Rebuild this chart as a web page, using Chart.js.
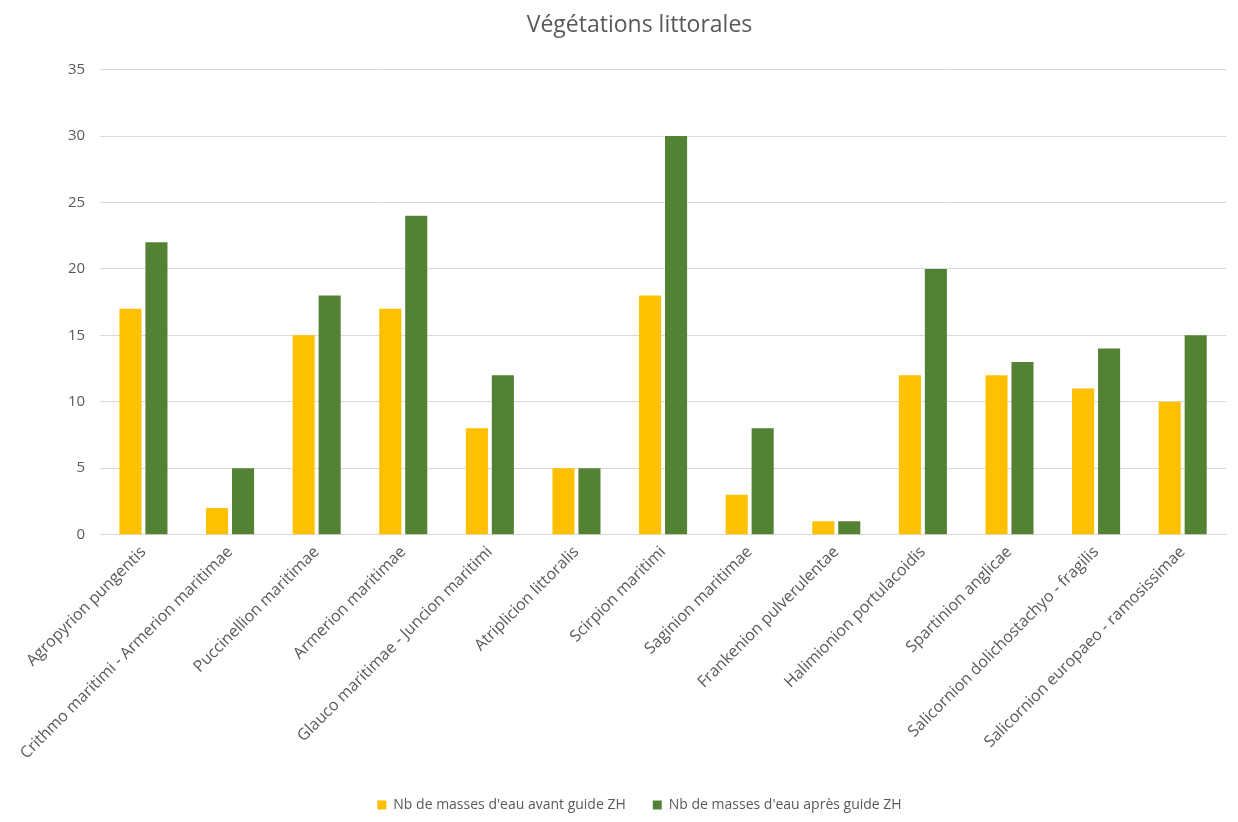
<!DOCTYPE html>
<html>
<head>
<meta charset="utf-8">
<script src="https://cdn.jsdelivr.net/npm/chart.js@4"></script>
<style>
  html, body { margin: 0; padding: 0; background: #fff; }
  #wrap { width: 1238px; height: 822px; }
</style>
</head>
<body>
<div id="wrap"><canvas id="chart"></canvas></div>
<script>
// --- Data ---
const categories = [
  "Agropyrion pungentis",
  "Crithmo maritimi - Armerion maritimae",
  "Puccinellion maritimae",
  "Armerion maritimae",
  "Glauco maritimae - Juncion maritimi",
  "Atriplicion littoralis",
  "Scirpion maritimi",
  "Saginion maritimae",
  "Frankenion pulverulentae",
  "Halimionion portulacoidis",
  "Spartinion anglicae",
  "Salicornion dolichostachyo - fragilis",
  "Salicornion europaeo - ramosissimae"
];
const avantGuide = [17, 2, 15, 17, 8, 5, 18, 3, 1, 12, 12, 11, 10];
const apresGuide = [22, 5, 18, 24, 12, 5, 30, 8, 1, 20, 13, 14, 15];
const seriesNames = ["Nb de masses d'eau avant guide ZH", "Nb de masses d'eau après guide ZH"];
const yTicks = [0, 5, 10, 15, 20, 25, 30, 35];

const textColor = "#595959";
const fontFamily = "'Open Sans', 'Liberation Sans', sans-serif";

const ctx = document.getElementById("chart").getContext("2d");
new Chart(ctx, {
  type: "bar",
  data: {
    labels: categories,
    datasets: [
      {
        label: seriesNames[0],
        data: avantGuide,
        backgroundColor: "#FFC000",
        categoryPercentage: 0.6,
        barPercentage: 0.85
      },
      {
        label: seriesNames[1],
        data: apresGuide,
        backgroundColor: "#548235",
        categoryPercentage: 0.6,
        barPercentage: 0.85
      }
    ]
  },
  options: {
    responsive: true,
    maintainAspectRatio: false,
    animation: false,
    layout: { padding: { left: 53, right: 12, top: 6, bottom: 0 } },
    plugins: {
      title: {
        display: true,
        text: "Végétations littorales",
        color: textColor,
        font: { family: fontFamily, size: 23, weight: "normal" },
        padding: { top: 6, bottom: 30 }
      },
      legend: {
        position: "bottom",
        labels: {
          color: textColor,
          font: { family: fontFamily, size: 14 },
          boxWidth: 9,
          boxHeight: 9,
          padding: 27
        }
      },
      tooltip: { enabled: false }
    },
    scales: {
      x: {
        grid: { display: false, drawTicks: false },
        border: { color: "#d9d9d9" },
        ticks: {
          color: textColor,
          font: { family: fontFamily, size: 16 },
          minRotation: 45,
          maxRotation: 45,
          autoSkip: false,
          padding: 8
        }
      },
      y: {
        min: 0,
        max: 35,
        afterBuildTicks: axis => { axis.ticks = yTicks.map(v => ({ value: v })); },
        grid: { color: "#d9d9d9", drawTicks: false },
        border: { display: false },
        ticks: {
          color: textColor,
          font: { family: fontFamily, size: 15 },
          padding: 15
        }
      }
    }
  }
});
</script>
</body>
</html>
